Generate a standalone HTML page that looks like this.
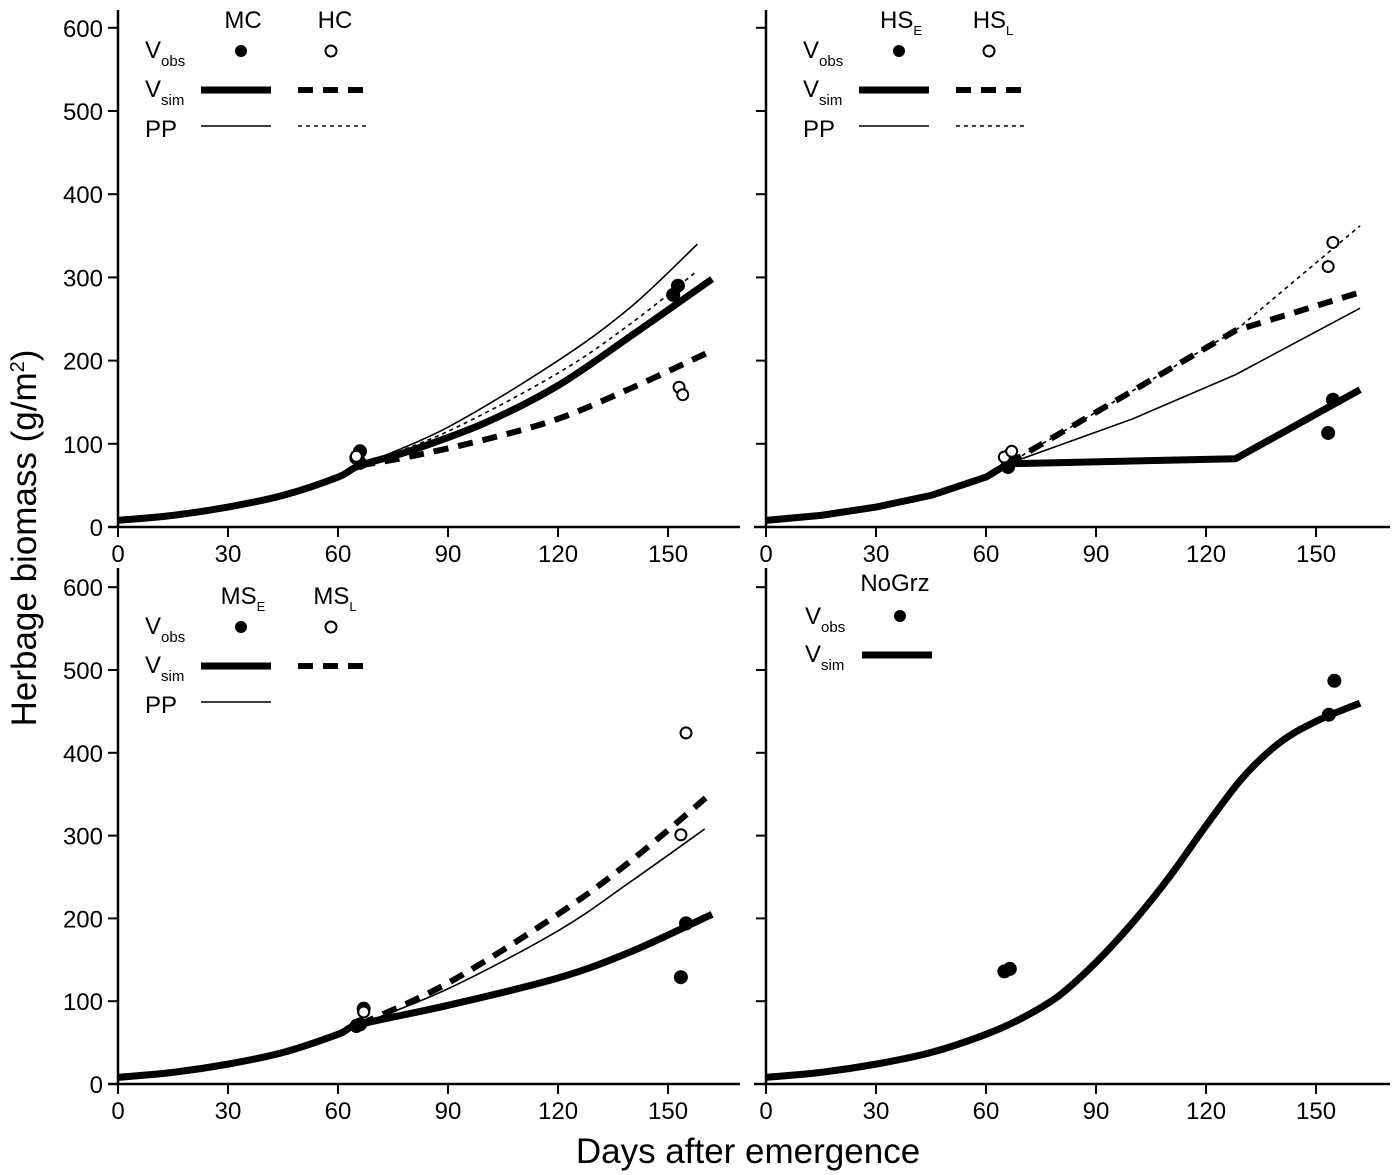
<!DOCTYPE html>
<html><head><meta charset="utf-8"><style>
body{margin:0;background:#fff}
svg{display:block;font-family:"Liberation Sans","DejaVu Sans",sans-serif}
</style></head><body>
<svg id="c" width="1400" height="1175" viewBox="0 0 1400 1175"></svg>
<script>
const xTicks=[0,30,60,90,120,150];
const yTicks=[0,100,200,300,400,500,600];
// Panel A
const mcSim=[[0,8],[15,14],[30,24],[45,38],[60,60],[66,74],[80,92],[100,125],[120,170],[140,230],[162,298]];
const hcSim=[[66,74],[80,85],[100,105],[120,130],[140,167],[162,212]];
const mcPP=[[66,74],[90,120],[120,200],[140,265],[158,340]];
const hcPP=[[66,74],[90,115],[120,185],[140,245],[158,308]];
const mcObs=[[65,83],[66,91],[66,77],[151.4,279],[152.7,290]];
const hcObs=[[65,85],[153,168],[154,159]];
// Panel B
const hseSim=[[0,8],[15,14],[30,24],[45,38],[60,60],[66,76],[128,82],[162,165]];
const hslSim=[[66,76],[128,236],[162,282]];
const hsePP=[[66,76],[100,130],[128,183],[162,263]];
const hslPP=[[66,76],[128,236],[162,362]];
const hseObs=[[66,72],[66,77],[66,85],[153.3,113],[154.6,153]];
const hslObs=[[65,84],[67,91],[153.3,313],[154.6,342]];
// Panel C
const mseSim=[[0,8],[15,14],[30,24],[45,38],[60,60],[66,72],[90,95],[120,128],[140,160],[162,205]];
const mslSim=[[66,72],[90,122],[120,205],[140,270],[162,352]];
const msPP=[[66,72],[90,115],[120,185],[140,245],[160,308]];
const mseObs=[[65,70],[66,72],[67,91],[153.5,129],[154.9,194]];
const mslObs=[[67,87],[153.5,301],[154.9,424]];
// Panel D
const ngSim=[[0,8],[15,14],[30,24],[45,38],[60,60],[70,80],[80,107],[90,147],[100,195],[110,250],[120,312],[130,370],[140,412],[150,438],[162,460]];
const ngObs=[[65,136],[66.5,139],[153.5,446],[155,487]];

const NS="http://www.w3.org/2000/svg";
const svg=document.getElementById('c');
function mk(t,a,p){const e=document.createElementNS(NS,t);for(const k in a)e.setAttribute(k,a[k]);(p||svg).appendChild(e);return e;}
const panels=[
 {x0:118,y0:527,yTop:10,xL:108,xR:740,sy:0.832,labels:true},
 {x0:766,y0:527,yTop:10,xL:754,xR:1390,sy:0.832,labels:false},
 {x0:118,y0:1084,yTop:568,xL:108,xR:740,sy:0.828,labels:true},
 {x0:766,y0:1084,yTop:568,xL:754,xR:1390,sy:0.828,labels:false}];
const sx=3.667;
function X(p,d){return p.x0+d*sx;}
function Y(p,v){return p.y0-v*p.sy;}
panels.forEach((p,i)=>{
 const g=mk('g',{});
 
 
 const xa=mk('line',{x1:p.xL,x2:p.xR,y1:p.y0,y2:p.y0,stroke:'#000','stroke-width':2.5},g);
 
 
 const ya=mk('line',{x1:p.x0,x2:p.x0,y1:p.yTop,y2:p.y0,stroke:'#000','stroke-width':2.5},g);
 
 
 xTicks.forEach(t=>{
  mk('line',{x1:X(p,t),x2:X(p,t),y1:p.y0,y2:p.y0+10,stroke:'#000','stroke-width':2},g);
  const tx=mk('text',{x:X(p,t),y:p.y0+35,'font-size':24,'text-anchor':'middle'},g);
  tx.textContent=t;
  
  
 });
 yTicks.forEach(t=>{
  mk('line',{x1:p.x0-10,x2:p.x0,y1:Y(p,t),y2:Y(p,t),stroke:'#000','stroke-width':2},g);
  if(p.labels){const ty=mk('text',{x:p.x0-15,y:Y(p,t)+9,'font-size':24,'text-anchor':'end'},g);
  ty.textContent=t;
  
  }
 });
});
const styles={thick:{w:7,d:''},dash:{w:6,d:'15 10'},thin:{w:1.6,d:''},dot:{w:1.6,d:'4 4'}};
function pathD(P,smooth){
 if(!smooth||P.length<3)return 'M'+P.map(q=>q[0]+','+q[1]).join(' L');
 let d='M'+P[0][0]+','+P[0][1];
 for(let i=0;i<P.length-1;i++){
  const p0=P[i-1]||P[i],p1=P[i],p2=P[i+1],p3=P[i+2]||P[i+1];
  const c1=[p1[0]+(p2[0]-p0[0])/6,p1[1]+(p2[1]-p0[1])/6];
  const c2=[p2[0]-(p3[0]-p1[0])/6,p2[1]-(p3[1]-p1[1])/6];
  d+=' C'+c1+' '+c2+' '+p2;
 }
 return d;
}
function line(p,data,st,name,smooth){
 const s=styles[st];
 const P=data.map(d=>[X(p,d[0]),Y(p,d[1])]);
 const e=mk('path',{d:pathD(P,smooth!==false),fill:'none',stroke:'#000','stroke-width':s.w,'stroke-dasharray':s.d,'stroke-linejoin':'round'});
 
 
}
function pts(p,data,filled,name){
 data.forEach(d=>{
  const c=mk('circle',{cx:X(p,d[0]),cy:Y(p,d[1]),r:filled?6:5.5,fill:filled?'#000':'#fff',stroke:'#000','stroke-width':2});
  
  
 });
}
const [A,B,C,D]=panels;
line(A,mcPP,'thin','mc-pp-line');line(A,hcPP,'dot','hc-pp-line');line(A,hcSim,'dash','hc-sim-line');line(A,mcSim,'thick','mc-sim-line');
pts(A,mcObs,true,'mc-obs-point');pts(A,hcObs,false,'hc-obs-point');
line(B,hsePP,'thin','hse-pp-line',false);line(B,hslPP,'dot','hsl-pp-line',false);line(B,hslSim,'dash','hsl-sim-line',false);line(B,hseSim,'thick','hse-sim-line',false);
pts(B,hseObs,true,'hse-obs-point');pts(B,hslObs,false,'hsl-obs-point');
line(C,msPP,'thin','ms-pp-line');line(C,mslSim,'dash','msl-sim-line');line(C,mseSim,'thick','mse-sim-line');
pts(C,mseObs,true,'mse-obs-point');pts(C,mslObs,false,'msl-obs-point');
line(D,ngSim,'thick','nogrz-sim-line');pts(D,ngObs,true,'nogrz-obs-point');

function txt(x,y,s,size,name,anchor){const t=mk('text',{x:x,y:y,'font-size':size,'text-anchor':anchor||'start'});t.innerHTML=s;return t;}
function seg(x1,x2,y,st,name){const s=styles[st];const e=mk('line',{x1:x1,x2:x2,y1:y,y2:y,stroke:'#000','stroke-width':s.w,'stroke-dasharray':s.d});}
function legend(dx,dy,h1,h2,pp){
 txt(243+dx,28+dy,h1,24,'legend-header','middle');
 if(h2)txt(335+dx,28+dy,h2,24,'legend-header','middle');
 txt(145+dx,58+dy,'V<tspan font-size="15" dy="8">obs</tspan>',24,'legend-vobs');
 const c1=mk('circle',{cx:241+dx,cy:51+dy,r:6,fill:'#000'});
 if(h2){const c2=mk('circle',{cx:331+dx,cy:51+dy,r:5.5,fill:'#fff',stroke:'#000','stroke-width':2});}
 txt(145+dx,97+dy,'V<tspan font-size="15" dy="8">sim</tspan>',24,'legend-vsim');
 seg(201+dx,271+dx,90+dy,'thick','legend-sim-solid');
 if(h2)seg(298+dx,370+dx,90+dy,'dash','legend-sim-dashed');
 if(pp){txt(145+dx,137+dy,'PP',24,'legend-pp');seg(201+dx,271+dx,126+dy,'thin','legend-pp-solid');
  if(pp===2)seg(298+dx,370+dx,126+dy,'dot','legend-pp-dotted');}
}
legend(0,0,'MC','HC',2);
legend(658,0,'HS<tspan font-size="13" dy="7">E</tspan>','HS<tspan font-size="13" dy="7">L</tspan>',2);
legend(0,576,'MS<tspan font-size="13" dy="7">E</tspan>','MS<tspan font-size="13" dy="7">L</tspan>',1);
// NoGrz legend
txt(895,591,'NoGrz',24,'legend-header','middle');
txt(805,624,'V<tspan font-size="15" dy="8">obs</tspan>',24,'legend-vobs');
const cN=mk('circle',{cx:900,cy:616,r:6,fill:'#000'});
txt(805,662,'V<tspan font-size="15" dy="8">sim</tspan>',24,'legend-vsim');
seg(862,932,655,'thick','legend-sim-solid');
// axis titles
const yt=txt(0,0,'Herbage biomass (g/m<tspan font-size="20" dy="-12">2</tspan><tspan dy="12">)</tspan>',35,'y-axis-title','middle');
yt.setAttribute('transform','translate(36,538) rotate(-90)');
txt(748,1163,'Days after emergence',35,'x-axis-title','middle');
</script>
</body></html>
